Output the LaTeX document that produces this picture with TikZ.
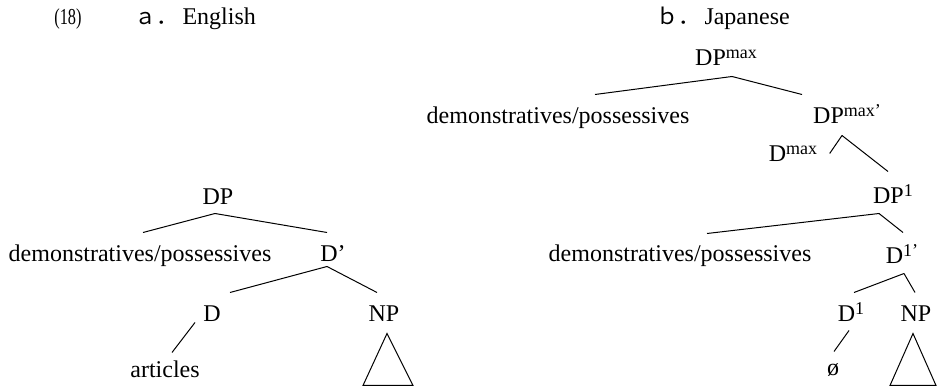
\documentclass[tikz,border=0pt]{standalone}
\usepackage{fontspec}
\setmainfont{Liberation Serif}
\newfontfamily\cjk{Noto Sans CJK JP}
\usepackage{graphicx}
\newcommand\sups[1]{\raisebox{0.33em}{\fontsize{9}{9}\selectfont #1}}

\begin{document}
\begin{tikzpicture}[x=0.5pt,y=-0.5pt,line width=0.5pt,
  lab/.style={inner sep=0pt,anchor=base,text height=8.5pt,text depth=0pt,font=\fontsize{12}{14}\selectfont}]
\useasboundingbox (0,0) rectangle (937,389);
% titles
\node(Ex) [lab] at (68,25) {\scalebox{0.68}[0.95]{(18)}};
\node(TA) [lab,anchor=base west] at (134,25) {{\cjk\fontsize{11}{13}\selectfont ａ．}\,English};
\node(TB) [lab,anchor=base west] at (656,25) {{\cjk\fontsize{11}{13}\selectfont ｂ．}\,Japanese};
% a. English
\node(DP)   [lab] at (218,205) {DP};
\node(DemA) [lab] at (140,262) {demonstratives/possessives};
\node(Dbar) [lab] at (333,262) {D’};
\node(D)    [lab] at (212,322) {D};
\node(NPA)  [lab] at (384,322) {NP};
\node(Art)  [lab] at (165,378) {articles};
\draw ([shift={(-3,8)}]DP.south) -- ([shift={(3,-12)}]DemA.north);
\draw ([shift={(-3,8)}]DP.south) -- ([shift={(-6,-12)}]Dbar.north);
\draw ([shift={(-6,4)}]Dbar.south) -- ([shift={(18,-12)}]D.north);
\draw ([shift={(-6,4)}]Dbar.south) -- ([shift={(-7,-12)}]NPA.north);
\draw ([shift={(-17,0)}]D.south) -- ([shift={(7,-8)}]Art.north);
\draw ([shift={(3,11)}]NPA.south) -- ++(-24,52) -- ++(50,0) -- cycle;
% b. Japanese
\node(DPmax)  [lab] at (726,66)  {DP\sups{max}};
\node(DemB)   [lab] at (558,124) {demonstratives/possessives};
\node(DPmaxb) [lab] at (847,124) {DP\sups{max’}};
\node(Dmax)   [lab] at (793,162) {D\sups{max}};
\node(DPone)  [lab] at (893,204) {DP\sups{1}};
\node(DemC)   [lab] at (680,262) {demonstratives/possessives};
\node(Doneb)  [lab] at (902,264) {D\sups{1’}};
\node(Done)   [lab] at (851,322) {D\sups{1}};
\node(NPB)    [lab] at (916,322) {NP};
\node(Zero)   [lab] at (833,376) {ø};
\draw ([shift={(6,10)}]DPmax.south) -- ([shift={(37,-12)}]DemB.north);
\draw ([shift={(6,10)}]DPmax.south) -- ([shift={(-45,-12)}]DPmaxb.north);
\draw ([shift={(-5,11)}]DPmaxb.south) -- ([shift={(12,0)}]Dmax.east);
\draw ([shift={(-5,11)}]DPmaxb.south) -- ([shift={(-5,-15)}]DPone.north);
\draw ([shift={(-14,9)}]DPone.south) -- ([shift={(27,-11)}]DemC.north);
\draw ([shift={(-14,9)}]DPone.south) -- ([shift={(1,-14)}]Doneb.north);
\draw ([shift={(2,9)}]Doneb.south) -- ([shift={(3,-12)}]Done.north);
\draw ([shift={(2,9)}]Doneb.south) -- ([shift={(-1,-12)}]NPB.north);
\draw ([shift={(-2,8)}]Done.south) -- ([shift={(1,-7)}]Zero.north);
\draw ([shift={(-3,11)}]NPB.south) -- ++(-23,52) -- ++(46,0) -- cycle;
\end{tikzpicture}
\end{document}
